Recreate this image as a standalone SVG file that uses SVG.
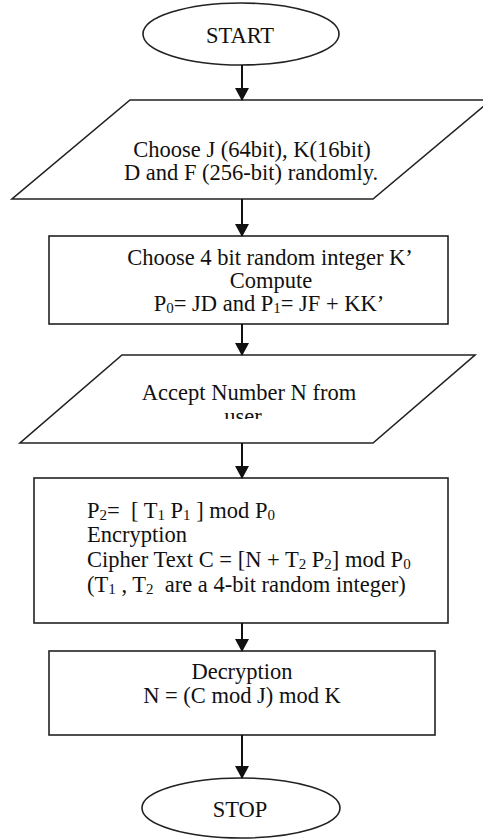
<svg xmlns="http://www.w3.org/2000/svg" width="483" height="840" viewBox="0 0 483 840">
<style>
.shape{fill:#fff;stroke:#222;stroke-width:1.6}
.t{font-family:"Liberation Serif","Times New Roman",serif;font-size:22.5px;fill:#111}
.c{text-anchor:middle}
.s{font-size:15px;baseline-shift:-2px}
.conn{stroke:#111;stroke-width:2;fill:none;marker-end:url(#ah)}
</style>
<defs>
<marker id="ah" markerUnits="userSpaceOnUse" markerWidth="14" markerHeight="14" refX="12" refY="7" orient="auto" viewBox="0 0 14 14">
<path d="M0,0 L13,7 L0,14 z" fill="#111"/>
</marker>
<clipPath id="userclip"><rect x="0" y="0" width="483" height="419"/></clipPath>
</defs>
<rect width="483" height="840" fill="#fff"/>
<g id="start">
<ellipse class="shape" cx="241" cy="34" rx="98" ry="31"/>
<text class="t c" x="240" y="43">START</text>
</g>
<g id="input1">
<polygon class="shape" points="130,100 491,100 373,199 12,199"/>
<text class="t c" x="252" y="157">Choose J (64bit), K(16bit)</text>
<text class="t c" x="251" y="180">D and F (256-bit) randomly.</text>
</g>
<g id="compute">
<rect class="shape" x="49" y="236" width="399" height="88"/>
<text class="t c" x="270" y="265">Choose 4 bit random integer K’</text>
<text class="t c" x="271" y="288">Compute</text>
<text class="t c" x="269" y="311">P<tspan class="s">0</tspan>= JD and P<tspan class="s">1</tspan>= JF + KK’</text>
</g>
<g id="input2">
<polygon class="shape" points="122,355 475,355 373,443 20,443"/>
<text class="t c" x="249" y="400">Accept Number N from</text>
<text class="t c" x="243" y="424" clip-path="url(#userclip)">user</text>
</g>
<g id="encrypt">
<rect class="shape" x="34" y="478" width="414" height="145"/>
<text class="t" x="87" y="518" xml:space="preserve">P<tspan class="s">2</tspan>=  [ T<tspan class="s">1</tspan> P<tspan class="s">1</tspan> ] mod P<tspan class="s">0</tspan></text>
<text class="t" x="87" y="542">Encryption</text>
<text class="t" x="87" y="567">Cipher Text C = [N + T<tspan class="s">2</tspan> P<tspan class="s">2</tspan>] mod P<tspan class="s">0</tspan></text>
<text class="t" x="87" y="592" xml:space="preserve">(T<tspan class="s">1</tspan> , T<tspan class="s">2</tspan>  are a 4-bit random integer)</text>
</g>
<g id="decrypt">
<rect class="shape" x="49" y="651" width="386" height="84"/>
<text class="t c" x="242" y="679">Decryption</text>
<text class="t c" x="242" y="703">N = (C mod J) mod K</text>
</g>
<g id="stop">
<ellipse class="shape" cx="241" cy="808" rx="99" ry="30"/>
<text class="t c" x="240" y="817">STOP</text>
</g>
<g id="connectors">
<line class="conn" x1="242" y1="65" x2="242" y2="100"/>
<line class="conn" x1="242" y1="199" x2="242" y2="236"/>
<line class="conn" x1="242" y1="324" x2="242" y2="355"/>
<line class="conn" x1="242" y1="443" x2="242" y2="478"/>
<line class="conn" x1="242" y1="623" x2="242" y2="651"/>
<line class="conn" x1="242" y1="735" x2="242" y2="778"/>
</g>
</svg>
